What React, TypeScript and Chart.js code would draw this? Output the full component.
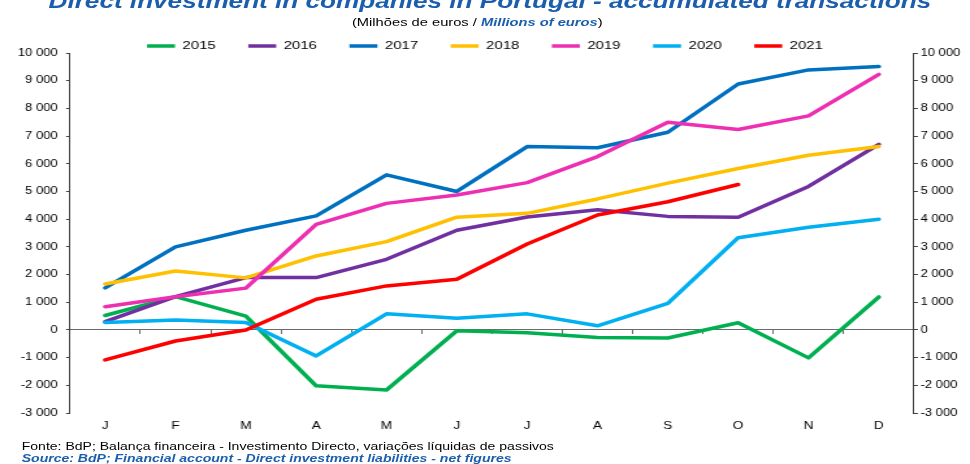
import React, { useEffect, useRef } from 'react';
import { Chart, registerables } from 'chart.js';

Chart.register(...registerables);

// ---- data ----
const MONTHS = ['J', 'F', 'M', 'A', 'M', 'J', 'J', 'A', 'S', 'O', 'N', 'D'];
const YEARS = ['2015', '2016', '2017', '2018', '2019', '2020', '2021'];
const COLORS = ['#00B050', '#7030A0', '#0070C0', '#FFC000', '#EE2FB2', '#00B0F0', '#FF0000'];

const V2015 = [520, 1200, 500, -2020, -2170, -30, -100, -270, -290, 260, -1010, 1190];
const V2016 = [300, 1200, 1890, 1890, 2550, 3600, 4080, 4340, 4100, 4070, 5180, 6700];
const V2017 = [1520, 3000, 3600, 4120, 5600, 5000, 6620, 6580, 7140, 8880, 9390, 9510];
const V2018 = [1660, 2130, 1880, 2670, 3190, 4070, 4210, 4730, 5300, 5830, 6310, 6620];
const V2019 = [840, 1200, 1510, 3810, 4570, 4870, 5320, 6260, 7500, 7240, 7730, 9230];
const V2020 = [270, 360, 270, -940, 580, 420, 580, 150, 960, 3330, 3710, 4000];
const V2021 = [-1080, -400, 0, 1110, 1590, 1830, 3100, 4150, 4630, 5250, null, null];
const SERIES = [V2015, V2016, V2017, V2018, V2019, V2020, V2021];

const Y_MIN = -3000;
const Y_MAX = 10000;
const Y_STEP = 1000;

const TITLE = 'Direct investment in companies in Portugal - accumulated transactions';
const SUB_PT = '(Milhões de euros / ';
const SUB_EN = 'Millions of euros';
const SRC_PT = 'Fonte: BdP; Balança financeira - Investimento Directo, variações líquidas de passivos';
const SRC_EN = 'Source: BdP; Financial account - Direct investment liabilities - net figures';

// ---- layout ----
const W = 746;
const H = 464;
const S = 970 / W;
const FONT = '"Liberation Sans", Arial, Helvetica, sans-serif';
const BLUE = '#1B5EAB';

const fmt = (v: number) => {
  const s = Math.abs(Math.round(v)).toString().replace(/\B(?=(\d{3})+(?!\d))/g, ' ');
  return (v < 0 ? '-' : '') + s;
};

export default function App() {
  const ref = useRef<HTMLCanvasElement>(null);

  useEffect(() => {
    if (!ref.current) return;
    Chart.defaults.font.family = FONT;
    const yCommon = (pos: 'left' | 'right', pad: number, width: number) => ({
      type: 'linear' as const,
      position: pos,
      min: Y_MIN,
      max: Y_MAX,
      ticks: {
        stepSize: Y_STEP,
        padding: pad,
        color: '#000',
        font: { size: 10, family: FONT },
        callback: (v: any) => fmt(Number(v)),
      },
      grid: { drawOnChartArea: false, drawTicks: true, tickLength: 3, color: '#404040', lineWidth: 1 },
      border: { display: true, color: '#404040', width: 1 },
      afterFit: (s: any) => {
        s.width = width;
      },
    });

    const chart = new Chart(ref.current, {
      type: 'line',
      data: {
        labels: MONTHS,
        datasets: YEARS.map((y, i) => ({
          label: y,
          data: SERIES[i],
          borderColor: COLORS[i],
          backgroundColor: COLORS[i],
          borderWidth: 3.5,
          borderCapStyle: 'round' as const,
          borderJoinStyle: 'round' as const,
          pointRadius: 0,
          pointHoverRadius: 0,
          tension: 0,
          fill: false,
          spanGaps: false,
          order: -i,
          xAxisID: 'x',
          yAxisID: 'y',
        })),
      },
      options: {
        responsive: false,
        animation: false,
        devicePixelRatio: 1,
        layout: { padding: { top: 15.25, left: 0, right: 0, bottom: 0 } },
        plugins: {
          legend: {
            position: 'top',
            align: 'center',
            maxHeight: 37.75,
            labels: {
              usePointStyle: true,
              pointStyle: 'line',
              pointStyleWidth: 21.5,
              padding: 25,
              color: '#000',
              font: { size: 11.5, family: FONT },
              sort: (a: any, b: any) => a.datasetIndex - b.datasetIndex,
            },
          },
          tooltip: { enabled: false },
          title: { display: false },
        },
        scales: {
          x: {
            type: 'category',
            position: 'bottom',
            offset: true,
            grid: { display: false, drawTicks: false },
            border: { display: false },
            ticks: {
              padding: 6.7,
              color: '#000',
              font: { size: 10.5, family: FONT },
              maxRotation: 0,
              autoSkip: false,
            },
            afterFit: (s: any) => {
              s.height = 51;
            },
          },
          x2: {
            type: 'category',
            axis: 'x',
            labels: MONTHS,
            position: { y: 0 },
            offset: true,
            grid: {
              display: true,
              offset: true,
              drawOnChartArea: false,
              drawTicks: true,
              tickLength: 4,
              color: '#6b6b6b',
              lineWidth: 1,
            },
            border: { display: true, color: '#6b6b6b', width: 1 },
            ticks: { display: false },
          } as any,
          y: yCommon('left', 6.5, 53.83),
          y2: yCommon('right', 2, 43.08),
        },
      } as any,
    });
    return () => chart.destroy();
  }, []);

  return (
    <div style={{ position: 'absolute', left: 0, top: 0, width: 970, height: 464, overflow: 'hidden', background: '#fff' }}>
      <div
        style={{
          position: 'absolute',
          left: 0,
          top: 0,
          width: W,
          height: H,
          transform: `scaleX(${S})`,
          transformOrigin: '0 0',
          fontFamily: FONT,
        }}
      >
        <canvas ref={ref} width={W} height={H} style={{ position: 'absolute', left: 0, top: 0, width: W, height: H, display: 'block' }} />
        <div
          style={{
            position: 'absolute',
            left: 0,
            top: -9.0,
            width: 753.6,
            textAlign: 'center',
            fontSize: 20.1,
            lineHeight: '20.1px',
            fontWeight: 'bold',
            fontStyle: 'italic',
            color: BLUE,
            whiteSpace: 'nowrap',
          }}
        >
          {TITLE}
        </div>
        <div
          style={{
            position: 'absolute',
            left: 270.7,
            top: 17.1,
            fontSize: 11.3,
            lineHeight: '11.3px',
            color: '#000',
            whiteSpace: 'nowrap',
          }}
        >
          {SUB_PT}
          <span style={{ fontWeight: 'bold', fontStyle: 'italic', color: BLUE }}>{SUB_EN}</span>)
        </div>
        <div
          style={{
            position: 'absolute',
            left: 16.7,
            top: 440.9,
            fontSize: 10.8,
            lineHeight: '10.8px',
            color: '#000',
            whiteSpace: 'nowrap',
          }}
        >
          {SRC_PT}
        </div>
        <div
          style={{
            position: 'absolute',
            left: 16.7,
            top: 452.6,
            fontSize: 10.8,
            lineHeight: '10.8px',
            fontWeight: 'bold',
            fontStyle: 'italic',
            color: BLUE,
            whiteSpace: 'nowrap',
          }}
        >
          {SRC_EN}
        </div>
      </div>
    </div>
  );
}
